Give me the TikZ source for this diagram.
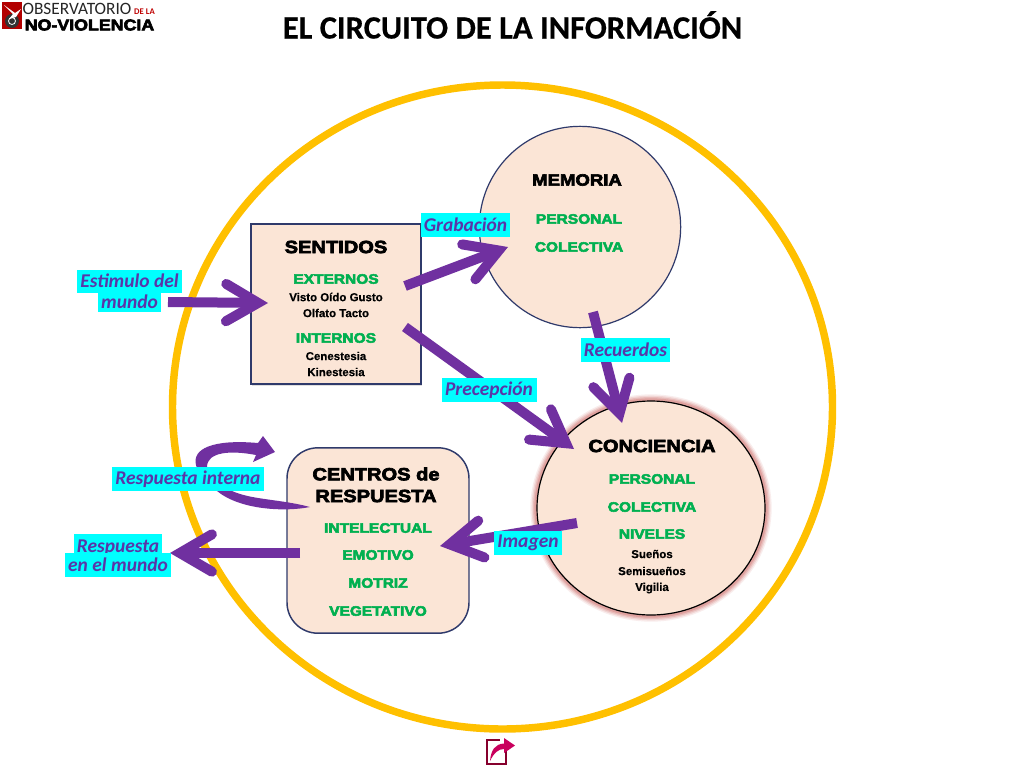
\documentclass[tikz,border=0pt]{standalone}
\usepackage{fontspec}
\setmainfont{Liberation Sans}
\newfontfamily\carl[Ligatures=TeX,BoldFeatures={FakeBold=0.4}]{Carlito}
\newfontfamily\carlplain[Ligatures=TeX]{Carlito}
\newfontfamily\hvfam[BoldFeatures={FakeBold=4,FakeStretch=1.14}]{Liberation Sans}
\newfontfamily\semi[BoldFeatures={FakeBold=0.5}]{Liberation Sans}
\usetikzlibrary{arrows.meta,shadows,calc}
\definecolor{ring}{HTML}{FFC000}
\definecolor{peach}{HTML}{FBE5D6}
\definecolor{edgeblue}{HTML}{2F3A6B}
\definecolor{arrowp}{HTML}{7030A0}
\definecolor{labelp}{HTML}{5A35A8}
\definecolor{cyanb}{HTML}{00FFFF}
\definecolor{greent}{HTML}{00B050}
\definecolor{glow}{HTML}{D0706C}
\tikzset{
  x=0.75pt,y=-0.75pt,
  bigarrow/.style={draw=arrowp,line width=7.5pt,-{Straight Barb[length=24pt,width=28pt,line width=7.5pt,line cap=round,line join=miter]}},
  tag/.style={fill=cyanb,text=labelp,inner sep=0pt,font=\carlplain\bfseries\itshape\fontsize{14.6}{15}\selectfont,anchor=center},
  head/.style={font=\hvfam\bfseries\fontsize{13.2}{14}\selectfont,text=black,inner sep=0pt},
  greenhead/.style={font=\hvfam\bfseries\fontsize{10.2}{11}\selectfont,text=greent,inner sep=0pt},
  small/.style={font=\semi\bfseries\fontsize{8.6}{9}\selectfont,text=black,inner sep=0pt},
  soft/.style={drop shadow={opacity=.25,shadow xshift=1pt,shadow yshift=-1.5pt}},
}
\begin{document}
\begin{tikzpicture}
\useasboundingbox (0,0) rectangle (1024,768);
\fill[white] (0,0) rectangle (1024,768);

% logo
\fill[red!70!black] (2,2) rectangle (22,29);
\fill[black!80] (12,21) circle [radius=7];
\draw[white,line width=0.6pt] (12,21) circle [radius=3.5];
\fill[white] (4,5) -- (15,13) -- (21,9) -- (16,17) -- (9,19) -- (13,14) -- cycle;
\node[inner sep=0pt,text=black!85,font=\carlplain\fontsize{13}{13}\selectfont] (logoa) at (77,8.5) {OBSERVATORIO};
\node[inner sep=0pt,text=red!75!black,font=\carlplain\bfseries\fontsize{6.5}{7}\selectfont] (logob) at (144.5,11.5) {DE LA};
\node[inner sep=0pt,font=\hvfam\bfseries\fontsize{11.7}{12}\selectfont] (logoc) at (89.5,25) {NO-VIOLENCIA};

% title
\node[inner sep=0pt,font=\carl\bfseries\fontsize{24.4}{25}\selectfont] (title) at (512.5,25) {EL CIRCUITO DE LA INFORMACIÓN};

% ring
\draw[ring,line width=5.6pt] (502.5,407) ellipse [x radius=330,y radius=322];

% boxes
\node[draw=edgeblue,fill=peach,line width=1.1pt,minimum width=127.5pt,minimum height=120pt,inner sep=0pt,soft] (sentidos) at (336,304) {};
\node[draw=edgeblue,fill=peach,line width=0.9pt,circle,minimum size=151pt,inner sep=0pt] (memoria) at (580,227) {};
\foreach \w/\o in {10/.12,8/.18,6/.25,4/.35}{
  \draw[glow,line width=\w pt,opacity=\o] (651,508) ellipse [x radius=114,y radius=107];
}
\draw[black,fill=peach,line width=0.9pt] (651,508) ellipse [x radius=114,y radius=107];
\coordinate (conciencia) at (651,508);
\node[draw=edgeblue,fill=peach,line width=1.1pt,rounded corners=23pt,minimum width=136.5pt,minimum height=139pt,inner sep=0pt] (centros) at (378,540.5) {};

% arrow ends
\coordinate (estA) at (168,302);   \coordinate (estB) at (268,303);
\coordinate (grabA) at (405,286);  \coordinate (grabB) at (508,247);
\coordinate (precA) at (405,327);  \coordinate (precB) at (574,449);
\coordinate (recA) at (593,312);   \coordinate (recB) at (622,423);
\coordinate (imgA) at (577,523);   \coordinate (imgB) at (440,546);
\coordinate (munA) at (300,553);   \coordinate (munB) at (170,553);
\coordinate (intA) at (310,507);   \coordinate (intB) at (275,452);

\draw[bigarrow] (estA) -- (estB);
\draw[bigarrow] (grabA) -- (grabB);
\draw[bigarrow] (precA) -- (precB);
\draw[bigarrow] (recA) -- (recB);
\draw[bigarrow] (imgA) -- (imgB);
\draw[bigarrow] (munA) -- (munB);
\fill[arrowp] (intA) .. controls (285,512) and (240,510) .. (217,491)
  .. controls (205,482) and (198,474) .. (196,465)
  .. controls (192,449) and (212,439) .. (258,443)
  -- (263,436) -- (intB) -- (253,462) -- (256,455)
  .. controls (230,450) and (207,452) .. (207,467)
  .. controls (208,478) and (220,485) .. (232,491)
  .. controls (252,500) and (280,499) .. (intA) -- cycle;

% labels
\node[tag,minimum width=78.75pt,minimum height=17.25pt] (estim1) at (129.5,281) {Estimulo del};
\node[tag,minimum width=47.25pt,minimum height=15pt] (estim2) at (129.5,302) {mundo};
\node[tag,minimum width=66.75pt,minimum height=18pt] (grab) at (465.5,225) {Grabación};
\node[tag,minimum width=66.75pt,minimum height=18pt] (rec) at (625.5,350) {Recuerdos};
\node[tag,minimum width=71.25pt,minimum height=18pt] (prec) at (489,390) {Precepción};
\node[tag,minimum width=51pt,minimum height=18pt] (imag) at (528,543) {Imagen};
\node[tag,minimum width=114pt,minimum height=18pt] (rint) at (188,479) {Respuesta interna};
\node[tag,minimum width=66pt,minimum height=21pt] (rm1) at (118,548) {Respuesta};
\node[tag,minimum width=79.5pt,minimum height=18pt] (rm2) at (118,565) {en el mundo};

% sentidos text
\node[head] (t1) at (336,247) {SENTIDOS};
\node[greenhead] (t2) at (336,279) {EXTERNOS};
\node[small] (t3) at (336,297) {Visto Oído Gusto};
\node[small] (t4) at (336,313) {Olfato Tacto};
\node[greenhead] (t5) at (336,338) {INTERNOS};
\node[small] (t6) at (336,356) {Cenestesia};
\node[small] (t7) at (336,372) {Kinestesia};
% memoria text
\node[head,font=\hvfam\bfseries\fontsize{12.2}{13}\selectfont] (m1) at (577,180) {MEMORIA};
\node[greenhead] (m2) at (579,219) {PERSONAL};
\node[greenhead] (m3) at (579,247) {COLECTIVA};
% conciencia text
\node[head] (c1) at (652,446) {CONCIENCIA};
\node[greenhead] (c2) at (652,479) {PERSONAL};
\node[greenhead] (c3) at (652,507) {COLECTIVA};
\node[greenhead] (c4) at (652,534) {NIVELES};
\node[small] (c5) at (652,554) {Sueños};
\node[small] (c6) at (652,571) {Semisueños};
\node[small] (c7) at (652,588) {Vigilia};
% centros text
\node[head] (r1) at (376,474) {CENTROS de};
\node[head] (r2) at (376,496) {RESPUESTA};
\node[greenhead] (r3) at (378,528) {INTELECTUAL};
\node[greenhead] (r4) at (378,555) {EMOTIVO};
\node[greenhead] (r5) at (378,583) {MOTRIZ};
\node[greenhead] (r6) at (378,611) {VEGETATIVO};

% bottom icon
\draw[purple!70!black,line width=1.8pt] (506,750) -- (506,764) -- (487,764) -- (487,740) -- (500,740);
\fill[purple!85!magenta] (490,761) .. controls (491,750) and (495,744) .. (504,743.5)
  -- (504,738) -- (515,745.5) -- (504,753) -- (504,749) .. controls (498,749) and (494,753) .. (490,761) -- cycle;
\end{tikzpicture}
\end{document}
